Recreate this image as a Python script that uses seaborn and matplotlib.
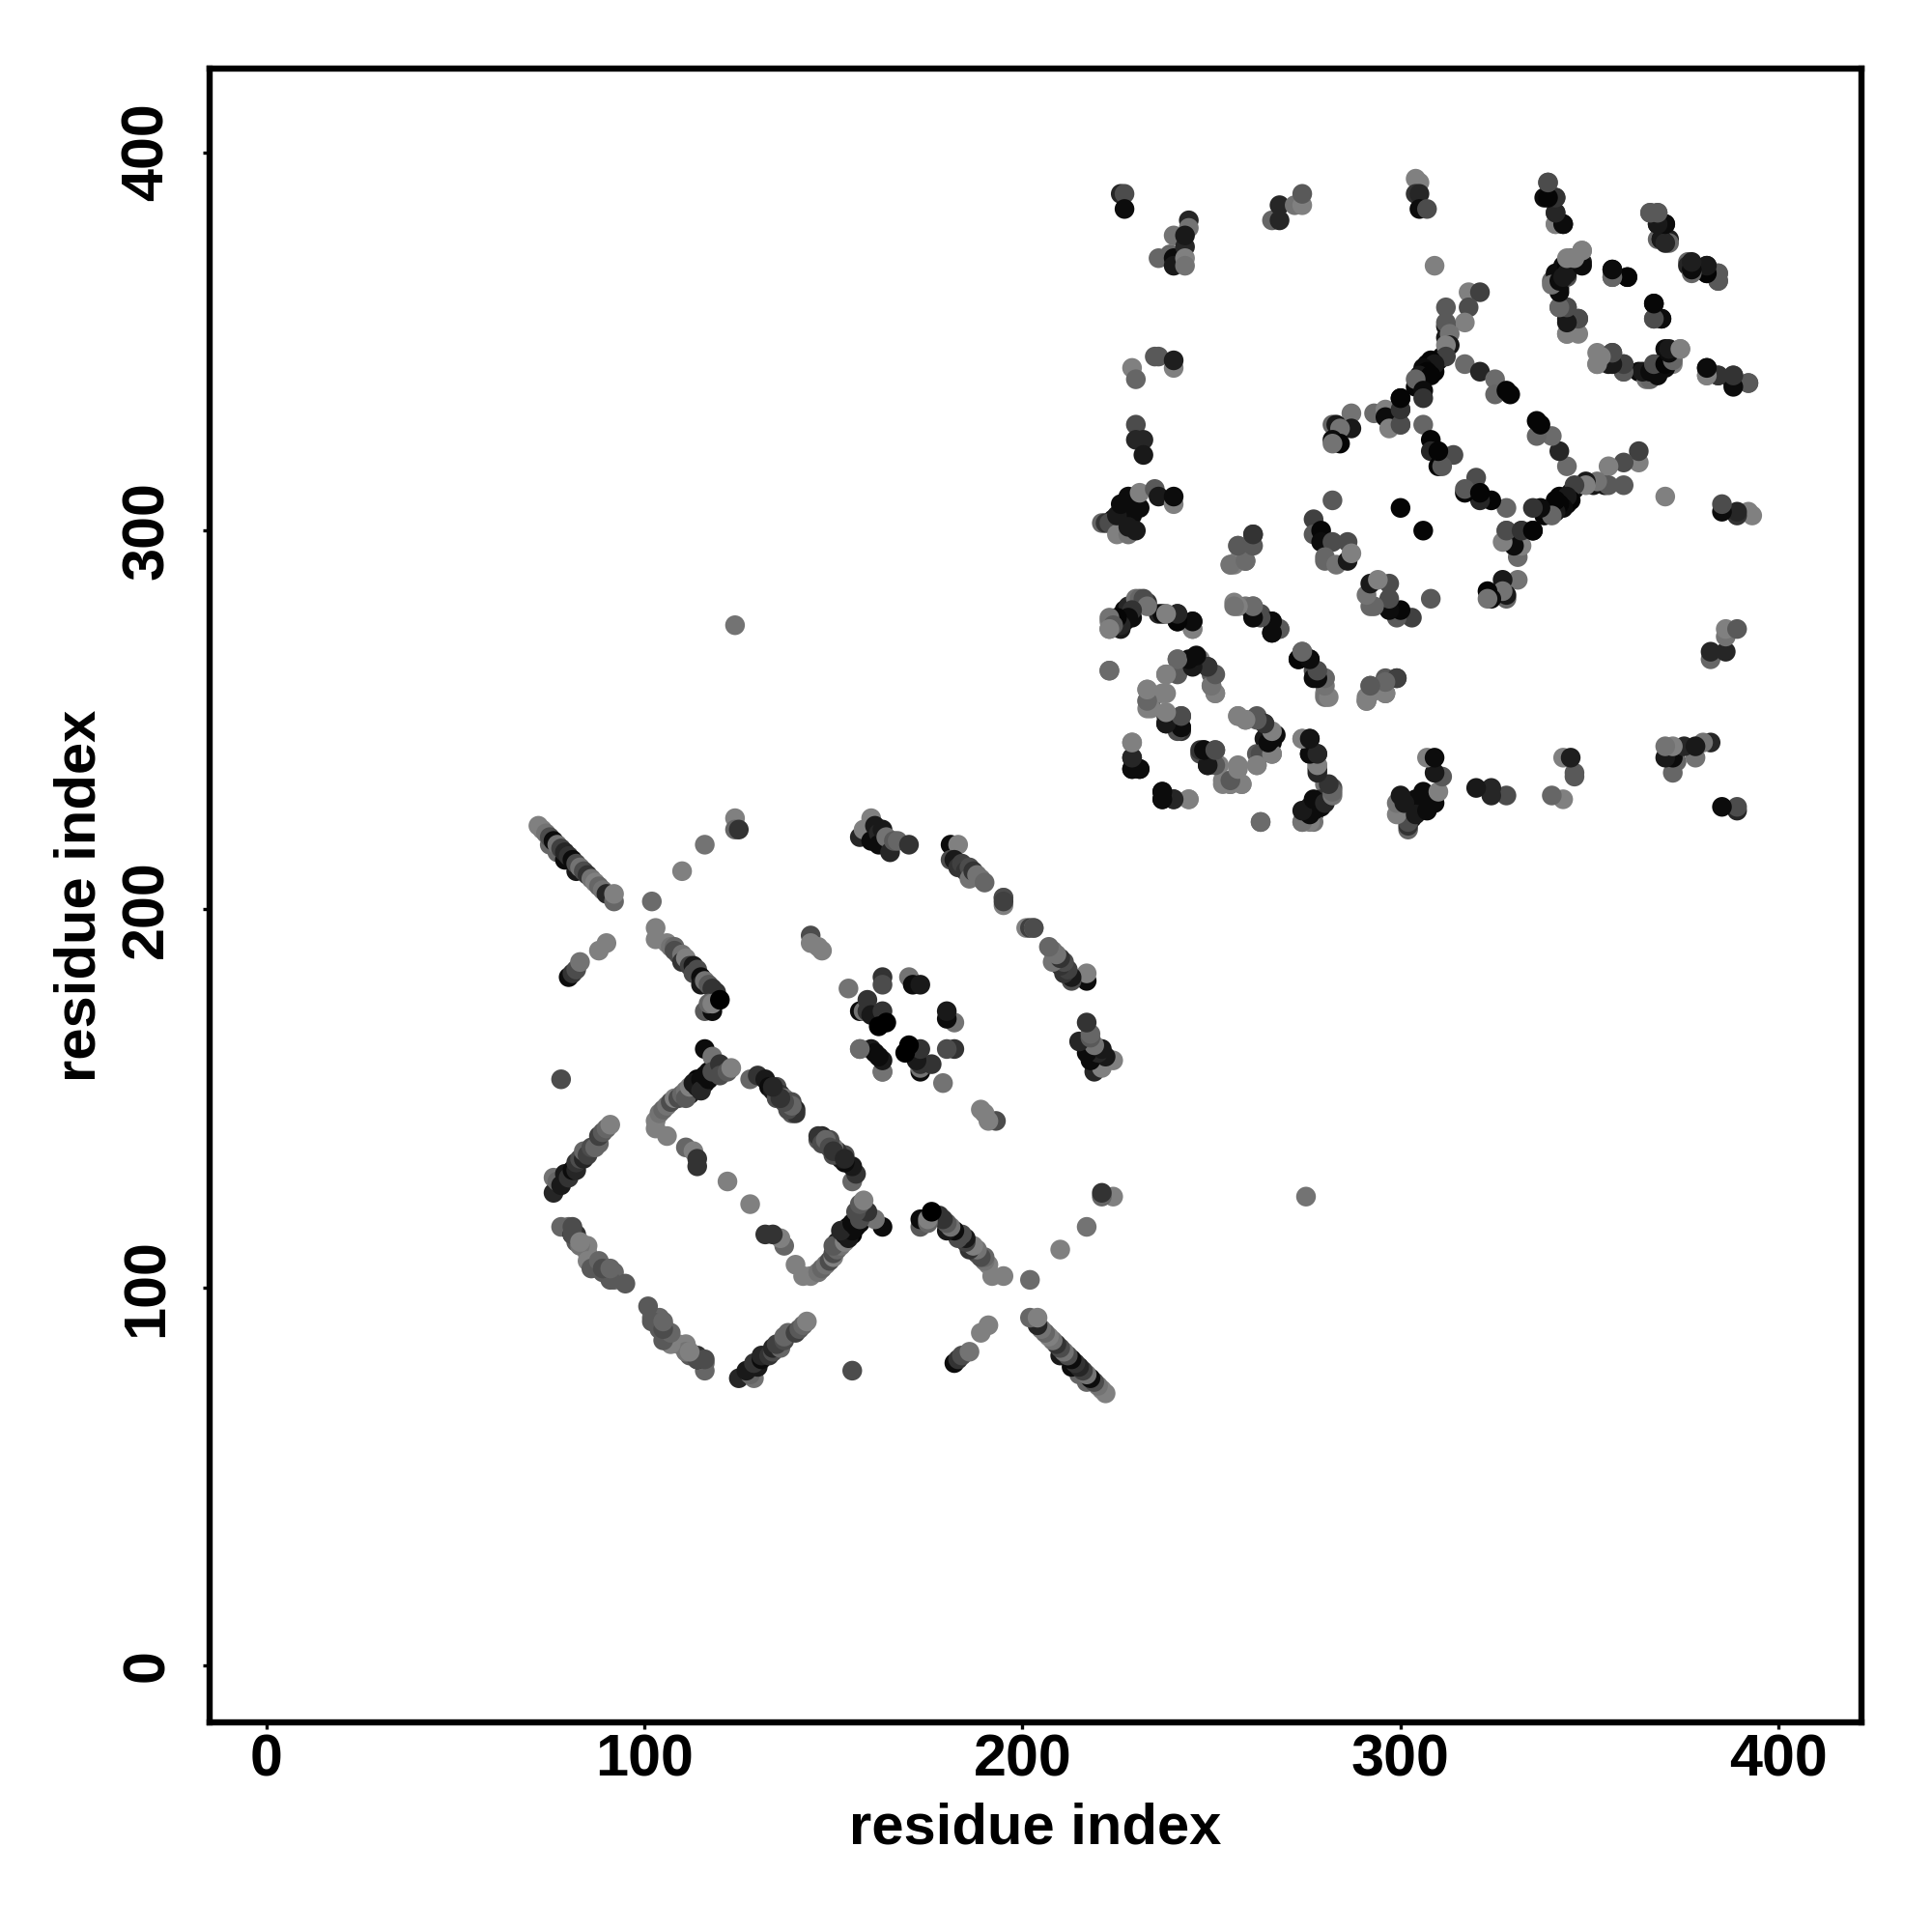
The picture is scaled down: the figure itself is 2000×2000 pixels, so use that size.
import seaborn as sns
import pandas as pd
import matplotlib.pyplot as plt

# contacts as (residue a, residue b, grey level), a < b. map is symmetric
# domain 1
anti_1 = [(75,217,.4),(77,215,.4),(79,213,.05),(82,210,.1),(72,222,.5),(73,221,.5),(74,220,.45),(75,219,.3),(76,218,.05),
          (77,217,.45),(78,216,.25),(79,215,.15),(80,214,.2),(81,213,.05),(82,212,.3),(83,211,.45),(84,210,.3),
          (85,209,.2),(86,208,.45),(87,207,.5),(88,206,.4),(89,205,.45),(90,204,.15),(92,202,.4),(92,204,.5)]
anti_2 = [(103,192,.5),(103,195,.5),(106,191,.5),(107,190,.45),(108,190,.4),(108,189,.3),(109,188,.3),(110,188,.45),
          (110,186,.2),(111,187,.5),(112,185,.25),(113,185,.1),(113,183,.3),(114,184,.3),(115,182,.05),(115,180,.1),
          (116,181,.45),(117,180,.35),(118,179,.2),(119,178,.2),(116,173,.35),(118,173,.05),(117,175,.4),(118,175,.5),(120,176,.0)]
short_1 = [(80,182,.05),(81,183,.2),(82,184,.3),(83,186,.45),(88,189,.5),(90,191,.5),(78,155,.3),
           (102,202,.42),(110,210,.5),(116,217,.45),(124,224,.5),(124,221,.4),(125,221,.2),(124,275,.45)]
strand_a = [(103,144,.5),(103,142,.5),(104,146,.45),(105,147,.4),(106,140,.5),(106,148,.45),(107,149,.3),(108,150,.5),
            (109,150,.3),(110,151,.4),(111,152,.45),(111,150,.35),(112,153,.5),(113,154,.1),(114,153,.1),(115,155,.05),
            (115,152,.15),(116,156,.05),(117,155,.05),(116,163,.05),(118,161,.45),(118,157,.3),(120,159,.2),(120,156,.3),
            (122,157,.35),(123,158,.5)]
strand_b = [(128,155,.4),(130,156,.2),(132,155,.1),(133,153,.05),(134,152,.1),(135,153,.3),(135,150,.3),(136,151,.2),(137,150,.45),
            (138,149,.4),(139,149,.3),(139,146,.35),(140,147,.15),(140,146,.2),(138,147,.3),(139,148,.4),(137,149,.3),
            (136,150,.2),(134,153,.15)]
strand_c = [(76,125,.15),(76,129,.45),(77,128,.4),(78,127,.1),(79,130,.1),(80,129,.2),(81,131,.05),(82,131,.15),
            (82,133,.2),(83,134,.3),(84,134,.15),(84,136,.4),(85,135,.25),(86,137,.3),(87,137,.4),(88,138,.4),
            (88,140,.25),(89,141,.35),(90,142,.4),(91,143,.5)]
strand_d = [(78,116,.4),(80,116,.4),(81,114,.05),(82,114,.2),(82,112,.35),(85,111,.5),(85,109,.5),(88,105,.4),
            (90,105,.05),(91,104,.4),(92,104,.4),(92,102,.4),(95,101,.35),
            (81,116,.3),(83,111,.45),(85,107,.5),(86,105,.35),(89,104,.35),(91,102,.35)]
strand_e = [(81,114,.3),(83,112,.5),(88,107,.4),(89,105,.3),(91,105,.4)]
inner_1 = [(111,137,.4),(113,136,.5),(114,132,.2),(114,134,.2),(122,128,.5)]
top_1 = [(157,219,.15),(158,221,.5),(160,224,.5),(160,218,.05),(161,222,.1),(162,220,.15),(162,217,.05),(163,221,.1),
         (164,219,.45),(165,215,.15),(166,218,.35),(167,218,.4),(170,217,.2)]
right_1 = [(181,217,.05),(183,217,.5),(181,213,.3),(182,213,.1),(183,211,.2),(184,212,.25),(185,210,.2),(186,211,.3),
           (186,208,.45),(187,210,.2),(188,209,.45),(189,208,.45),(190,207,.4),(195,203,.5),(195,203,.3),(201,195,.5),(202,195,.25)]
lower_1 = [(144,193,.3),(144,191,.5),(147,189,.5),(146,190,.5)]
ring_1 = [(154,179,.45),(163,182,.2),(163,180,.3),(170,182,.45),(171,180,.05),(173,180,.1),(157,173,.05),(158,173,.45),
          (159,176,.2),(159,173,.2),(160,172,.1),(163,173,.2),(162,169,.0),(164,170,.0),(157,163,.45)]
edge_1 = [(160,163,.1),(161,162,.05),(163,157,.42)]

# dark residues under the dense runs
under_dark = [(113,152,.05),(114,155,.02),(112,151,.1),(116,154,.02),(117,157,.05),
              (306,341,.02),(307,344,.05),(310,345,.05),(309,342,.02),(308,343,.02),(311,346,.05),(304,338,.03),(305,339,.02),
              (312,354,.1),(312,351,.1),(224,303,.05),(226,303,.05),(227,305,.02),(229,307,.05),(229,304,.05),(226,300,.05),
              (231,306,.05),(224,275,.05),(226,277,.05),(227,276,.1),(227,279,.05)]

# domain 2
top_2 = [(226,389,.15),(227,389,.3),(227,385,.05),(236,372,.4),(239,373,.4),(240,378,.45),(240,372,.05),(240,370,.1),
         (243,375,.15),(243,372,.5),(243,370,.45),(244,382,.15),(244,380,.45),(243,378,.1),
         (266,382,.4),(268,386,.15),(268,382,.15),(272,386,.45),(274,386,.5),(274,389,.35),
         (229,343,.5),(230,340,.4),(235,346,.35),(236,346,.35),(240,343,.5),(240,345,.12),
         (230,328,.3),(230,324,.15),(232,324,.15),(232,320,.1)]
bend_2 = [(221,302,.4),(222,302,.2),(223,302,.3),(225,299,.5),(228,299,.45),(230,300,.1),(228,301,.1),(225,304,.1),
          (226,307,.05),(228,309,.05),(230,306,.05),(231,310,.5),(235,311,.35),(236,309,.1),(240,307,.5),(240,309,.05)]
mid_2 = [(282,308,.35),(300,306,.02),(277,303,.25),(277,299,.35),(279,300,.03),(279,297,.05),(282,297,.3),(286,297,.3),
         (280,293,.4),(280,292,.4),(283,291,.45),(286,292,.1),(287,294,.5),(261,299,.25),(257,296,.5),(260,296,.4),
         (255,291,.5),(257,292,.5),(259,292,.35)]
row_2 = [(223,276,.5),(223,274,.45),(225,276,.05),(226,274,.1),(229,277,.05),(228,280,.15),(230,282,.45),(231,282,.4),
         (233,281,.2),(236,278,.15),(238,278,.5),(241,276,.05),(241,278,.15),(245,274,.5),(245,276,.08),
         (256,281,.5),(259,280,.45),(261,280,.4),(261,278,.05),(263,278,.3),(266,273,.02),(266,276,.05),(268,274,.4),
         (274,268,.35),(273,266,.05),(276,266,.05),(277,263,.3),(277,261,.05),(280,261,.42),(280,257,.5),(280,256,.45)]
swirl_2 = [(291,256,.5),(291,255,.45),(292,259,.42),(296,257,.35),(296,261,.35),(299,261,.2),(223,263,.42),
           (241,263,.3),(241,266,.5),(238,262,.5),(244,265,.05),(245,266,.05),(247,266,.5),(249,264,.2),(250,262,.35),(250,259,.5),(251,257,.5),
           (233,258,.5),(233,255,.5),(233,253,.5),(234,255,.35),(237,257,.5),
           (238,251,.35),(238,249,.1),(242,247,.2),(242,248,.05),(242,251,.3)]
lower_2 = [(229,244,.5),(229,240,.15),(229,237,.05),(231,237,.05),(257,251,.5),(259,250,.45),(262,251,.35),(264,249,.2),
           (262,241,.35),(264,245,.1),(266,244,.05),(266,241,.4),(267,246,.05),(262,238,.5),(274,245,.5),(276,245,.05),(276,241,.02),
           (278,241,.15),(278,237,.05),(278,238,.5),(247,241,.3),(248,242,.05),(249,238,.1),(251,242,.3),(252,238,.5),(257,238,.5),
           (253,234,.5),(255,233,.4),(258,233,.5),(237,231,.05),(237,229,.05),(240,229,.15),(244,229,.5),(263,223,.42),
           (282,232,.3),(280,233,.45),(279,229,.2),(277,228,.05),(275,226,.15),(277,225,.02),(277,223,.45),(275,224,.35),(274,223,.5)]
upper_2 = [(304,393,.5),(305,392,.5),(304,389,.2),(305,389,.15),(305,385,.05),(307,385,.3),
           (339,392,.35),(338,388,.05),(341,388,.2),(341,384,.2),(341,381,.5),(343,381,.05),
           (366,384,.35),(368,384,.35),(368,381,.02),(370,381,.1),(368,377,.4),(369,377,.05),(371,377,.12),
           (376,371,.4),(377,369,.1),(376,370,.15),(381,370,.05),(381,368,.1),(384,368,.35),(384,366,.35),(309,370,.5)]
arc_2 = [(340,366,.4),(342,364,.1),(341,368,.05),(342,366,.05),(343,370,.05),(344,367,.3),(344,370,.02),(345,372,.4),(347,371,.05),(348,371,.1),
         (348,374,.5),(356,369,.05),(356,367,.3),(360,367,.03),(367,360,.02),(367,356,.4),(369,356,.05),
         (342,359,.35),(344,359,.25),(344,356,.1),(347,356,.3),(344,352,.5),(346,353,.5),
         (352,347,.5),(352,344,.5),(356,347,.3),(355,344,.1),(359,344,.3),(359,342,.4),(363,342,.05),(365,340,.45),
         (366,342,.05),(367,343,.1),(368,344,.1),(370,348,.05),(372,344,.5),(372,346,.5),(374,348,.5),
         (381,341,.5),(381,343,.05),(384,341,.15),(388,341,.2),(388,339,.02),(392,339,.3)]
cross_2 = [(318,363,.5),(321,363,.25),(318,359,.3),(317,355,.5),(312,359,.35),(312,355,.35),(313,352,.45),(313,349,.1),(312,349,.5),
           (312,346,.25),(308,345,.02),(309,344,.1),(306,343,.05),(307,342,.02),(305,341,.1),(308,341,.02),(304,340,.4),(306,337,.05),(300,335,.02),
           (306,335,.2),(300,332,.2),(300,328,.3),(306,328,.4),(317,344,.42),(321,342,.15),(325,340,.42),(325,336,.4),(329,336,.02),(328,337,.02),
           (308,324,.02),(308,321,.15),(311,320,.45),(314,320,.3),(310,317,.02),(311,317,.35),(310,321,.02)]
links_2 = [(287,331,.45),(287,327,.1),(282,328,.4),(283,328,.1),(284,327,.45),(282,324,.05),(284,323,.02),(282,323,.45),
           (293,331,.42),(296,332,.5),(296,330,.05),(297,327,.5),(300,328,.3),(300,332,.2),(300,335,.02)]

all_segments = [under_dark, anti_1, anti_2, short_1, strand_a, strand_b, strand_c, strand_d, strand_e, inner_1, top_1, right_1,
                lower_1, ring_1, edge_1, top_2, bend_2, mid_2, row_2, swirl_2, lower_2, upper_2, arc_2, cross_2, links_2]

res_a, res_b, shade = [], [], []
for seg in all_segments:
    for a, b, g in seg:
        res_a.append(a)
        res_b.append(b)
        shade.append(g)

df = pd.DataFrame({'x': res_a + res_b, 'y': res_b + res_a, 'shade': shade + shade})

sns.set_theme(style="ticks", rc={'text.color': 'black', 'axes.labelcolor': 'black',
                                 'xtick.color': 'black', 'ytick.color': 'black'})
plt.rcParams['font.family'] = ['Liberation Sans', 'DejaVu Sans']

fig = plt.figure(figsize=(10, 10), dpi=200)
ax = fig.add_axes([0.1084, 0.1084, 0.8553, 0.8559])
sns.scatterplot(data=df, x='x', y='y', hue='shade', palette='gray', hue_norm=(0, 1),
                s=54, linewidth=0, legend=False, ax=ax)
ax.set_xlim(-15, 422)
ax.set_ylim(-15, 422)
ax.set_xticks([0, 100, 200, 300, 400])
ax.set_yticks([0, 100, 200, 300, 400])
ax.tick_params(length=2.6, width=1.2, color='black', labelsize=22)
ax.tick_params(axis='x', pad=1.5)
ax.tick_params(axis='y', pad=10)
for lab in ax.get_xticklabels():
    lab.set_fontweight('bold')
for lab in ax.get_yticklabels():
    lab.set_fontweight('bold')
    lab.set_rotation(90)
    lab.set_va('center')
for sp in ax.spines.values():
    sp.set_linewidth(2.3)
    sp.set_color('black')
ax.set_xlabel('residue index', fontsize=21.5, fontweight='bold', labelpad=5)
ax.set_ylabel('residue index', fontsize=21.5, fontweight='bold', labelpad=5)
fig.savefig('out.png', dpi=200)
